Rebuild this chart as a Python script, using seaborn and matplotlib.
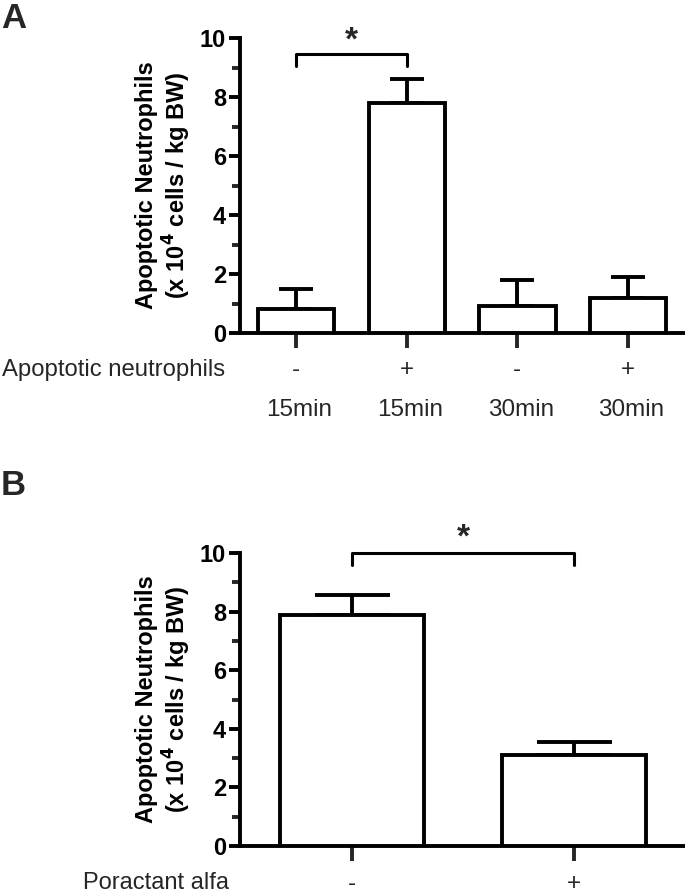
import numpy as np
import pandas as pd
import matplotlib
matplotlib.use("Agg")
import matplotlib.pyplot as plt
from matplotlib.ticker import MultipleLocator
import matplotlib.transforms as mtransforms
import seaborn as sns

# ---- data ----
a_groups = ["g1", "g2", "g3", "g4"]
a_signs = ["-", "+", "-", "+"]
a_times = ["15min", "15min", "30min", "30min"]
a_means = [0.8, 7.8, 0.9, 1.2]
a_errs = [0.7, 0.8, 0.9, 0.7]

b_groups = ["b1", "b2"]
b_signs = ["-", "+"]
b_means = [7.9, 3.1]
b_errs = [0.65, 0.45]

y_ticks = [0, 2, 4, 6, 8, 10]

sns.set_theme(style="ticks")
plt.rcParams['font.family'] = ['Liberation Sans', 'DejaVu Sans']

W, H = 685, 893
fig = plt.figure(figsize=(W / 100, H / 100), dpi=100)

def px_axes(left, top, right, bottom):
    return fig.add_axes([left / W, 1 - bottom / H, (right - left) / W, (bottom - top) / H])

axA = px_axes(240, 38, 684, 333)
axB = px_axes(240, 553, 684, 846)

LW = 2.8

def style(ax, xlim, width, means, errs, groups, capsize):
    df = pd.DataFrame({"g": groups, "v": means})
    sns.barplot(data=df, x="g", y="v", ax=ax, color="white", edgecolor="black",
                linewidth=LW, width=width, errorbar=None, zorder=3)
    x = np.arange(len(means))
    ax.errorbar(x, means, yerr=[np.zeros(len(errs)), errs], fmt="none",
                ecolor="black", elinewidth=LW, capsize=capsize, capthick=LW, zorder=2)
    ax.set_xlim(*xlim)
    ax.set_ylim(0, 10)
    ax.set_yticks(y_ticks)
    ax.yaxis.set_minor_locator(MultipleLocator(1))
    ax.set_xlabel("")
    ax.set_xticklabels([])
    for s in ["top", "right"]:
        ax.spines[s].set_visible(False)
    for s in ["left", "bottom"]:
        ax.spines[s].set_linewidth(LW)
        ax.spines[s].set_color("black")
    ax.tick_params(axis="y", which="major", length=8, width=LW, labelsize=17, pad=2, colors="black")
    ax.tick_params(axis="y", which="minor", length=6, width=LW)
    ax.tick_params(axis="x", which="major", length=11, width=LW)
    for lab in ax.get_yticklabels():
        lab.set_fontweight("bold")
    ax.set_ylabel("Apoptotic Neutrophils\n(x 10$^\\mathbf{4}$ cells / kg BW)", fontsize=17,
                  fontweight="bold", linespacing=1.1, labelpad=5, color="black")
    ax.set_facecolor("white")

style(axA, (-0.506, 3.505), 0.69, a_means, a_errs, a_groups, 12.5)
style(axB, (-0.505, 1.495), 0.65, b_means, b_errs, b_groups, 27)

def bracket(ax, x0, x1, y, leg, ystar):
    ax.plot([x0, x0, x1, x1], [y - leg, y, y, y - leg], color="black", lw=2.2, clip_on=False)
    ax.text((x0 + x1) / 2, ystar, "*", ha="center", va="center", fontsize=24,
            fontweight="bold", clip_on=False)

bracket(axA, 0, 1, 9.45, 0.4, 9.9)
bracket(axB, 0, 1, 10.0, 0.4, 10.5)

txA = mtransforms.blended_transform_factory(axA.transData, axA.transAxes)
for i, (s, t) in enumerate(zip(a_signs, a_times)):
    axA.text(i, -0.125, s, transform=txA, ha="center", va="center", fontsize=17.5)
    axA.text(i + 0.03, -0.262, t, transform=txA, ha="center", va="center", fontsize=17.5)
fig.text(2 / W, 1 - 370 / H, "Apoptotic neutrophils", ha="left", va="center", fontsize=17.2)

txB = mtransforms.blended_transform_factory(axB.transData, axB.transAxes)
for i, s in enumerate(b_signs):
    axB.text(i, -0.128, s, transform=txB, ha="center", va="center", fontsize=17.5)
fig.text(83 / W, 1 - 883 / H, "Poractant alfa", ha="left", va="center", fontsize=17)

fig.text(1 / W, 1 - 28 / H, "A", ha="left", va="baseline", fontsize=25, fontweight="bold")
fig.text(1 / W, 1 - 495 / H, "B", ha="left", va="baseline", fontsize=25, fontweight="bold")

fig.savefig("out.png", dpi=100, facecolor="white")
